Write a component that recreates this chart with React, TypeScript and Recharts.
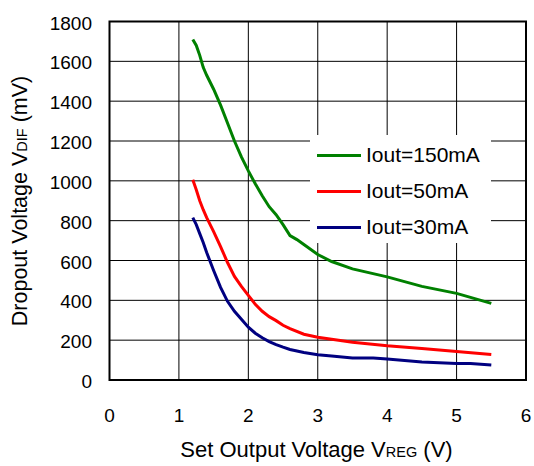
import { LineChart, Line, XAxis, YAxis, CartesianGrid, Legend, ReferenceArea, Label } from 'recharts'

const FONT = '"Liberation Sans", Arial, sans-serif'

const xTicks = [0, 1, 2, 3, 4, 5, 6]
const yTicks = [0, 200, 400, 600, 800, 1000, 1200, 1400, 1600, 1800]

// Iout = 150mA
const vreg150 = [1.2, 1.25, 1.3, 1.35, 1.4, 1.5, 1.6, 1.7, 1.8, 1.9, 2.0, 2.1, 2.2, 2.3, 2.4, 2.5, 2.6, 2.7, 2.8, 3.0, 3.2, 3.5, 4.0, 4.5, 5.0, 5.2, 5.5]
const vdif150 = [1710, 1680, 1630, 1570, 1530, 1460, 1380, 1290, 1200, 1120, 1050, 985, 925, 870, 830, 780, 725, 705, 680, 630, 595, 558, 518, 470, 435, 415, 385]

// Iout = 50mA
const vreg50 = [1.2, 1.25, 1.3, 1.35, 1.4, 1.5, 1.6, 1.7, 1.8, 1.9, 2.0, 2.1, 2.2, 2.3, 2.4, 2.5, 2.6, 2.8, 3.0, 3.2, 3.5, 4.0, 4.5, 5.0, 5.5]
const vdif50 = [1005, 955, 900, 855, 815, 745, 670, 590, 520, 470, 425, 380, 345, 318, 298, 275, 258, 230, 215, 205, 190, 172, 158, 143, 128]

// Iout = 30mA
const vreg30 = [1.2, 1.25, 1.3, 1.35, 1.4, 1.5, 1.6, 1.7, 1.8, 1.9, 2.0, 2.1, 2.2, 2.3, 2.4, 2.5, 2.6, 2.8, 3.0, 3.2, 3.5, 3.8, 4.0, 4.5, 5.0, 5.2, 5.5]
const vdif30 = [815, 780, 735, 690, 640, 550, 465, 395, 345, 305, 265, 235, 212, 193, 178, 165, 153, 138, 127, 120, 110, 110, 105, 90, 83, 83, 75]

const zip = (xs: number[], ys: number[]) => xs.map((x, i) => ({ x, y: ys[i] }))

const series = [
  { name: 'Iout=150mA', color: '#008000', data: zip(vreg150, vdif150) },
  { name: 'Iout=50mA', color: '#ff0000', data: zip(vreg50, vdif50) },
  { name: 'Iout=30mA', color: '#000080', data: zip(vreg30, vdif30) },
]

const XTick = ({ x, y, payload }: any) => (
  <text x={x} y={y} textAnchor="middle" fontSize={19} fontFamily={FONT} fill="#000">
    {payload.value}
  </text>
)

const YTick = ({ x, y, payload }: any) => (
  <text x={x} y={y} dy={8} textAnchor="end" fontSize={19} fontFamily={FONT} fill="#000">
    {payload.value}
  </text>
)

const LegendBox = () => (
  <div
    style={{
      width: 181,
      height: 106,
      paddingTop: 2,
      background: '#fff',
      fontFamily: FONT,
      fontSize: 21,
      color: '#000',
    }}
  >
    {series.map((s) => (
      <div key={s.name} style={{ height: 36, display: 'flex', alignItems: 'center' }}>
        <div style={{ marginLeft: 7, width: 44, height: 3, background: s.color }} />
        <span style={{ marginLeft: 5, lineHeight: '36px' }}>{s.name}</span>
      </div>
    ))}
  </div>
)

export default function App() {
  return (
    <div style={{ position: 'absolute', left: 0, top: 0, width: 534, height: 466, background: '#fff' }}>
      <LineChart width={534} height={466} margin={{ top: 21.5, right: 8, bottom: 0, left: 0 }}>
        <CartesianGrid stroke="#000" strokeWidth={1} horizontalValues={yTicks} verticalValues={xTicks} />
        <XAxis
          type="number"
          dataKey="x"
          domain={[0, 6]}
          ticks={xTicks}
          axisLine={false}
          tickLine={false}
          tickSize={0}
          tickMargin={42}
          height={86}
          tick={<XTick />}
          allowDuplicatedCategory={false}
        >
          <Label
            content={() => (
              <text x={316.5} y={456.5} textAnchor="middle" fontSize={22} fontFamily={FONT} fill="#000">
                Set Output Voltage V<tspan fontSize={14.5}>REG</tspan>
                <tspan fontSize={22}> (V)</tspan>
              </text>
            )}
          />
        </XAxis>
        <YAxis
          type="number"
          domain={[0, 1800]}
          ticks={yTicks}
          axisLine={false}
          tickLine={false}
          tickSize={0}
          tickMargin={17.5}
          width={109.5}
          tick={<YTick />}
        >
          <Label
            content={() => (
              <text
                x={26.5}
                y={201}
                transform="rotate(-90, 26.5, 201)"
                textAnchor="middle"
                fontSize={21.5}
                fontFamily={FONT}
                fill="#000"
              >
                Dropout Voltage V<tspan fontSize={14.5}>DIF</tspan>
                <tspan fontSize={21.5}> (mV)</tspan>
              </text>
            )}
          />
        </YAxis>
        <ReferenceArea x1={0} x2={6} y1={0} y2={1800} fill="none" fillOpacity={0} stroke="#000" strokeWidth={2} />
        {series.map((s) => (
          <Line
            key={s.name}
            data={s.data}
            dataKey="y"
            name={s.name}
            type="linear"
            stroke={s.color}
            strokeWidth={3}
            dot={false}
            isAnimationActive={false}
          />
        ))}
        <Legend
          layout="vertical"
          align="center"
          verticalAlign="middle"
          content={<LegendBox />}
          wrapperStyle={{ left: 310, top: 135, width: 181 }}
        />
      </LineChart>
    </div>
  )
}
